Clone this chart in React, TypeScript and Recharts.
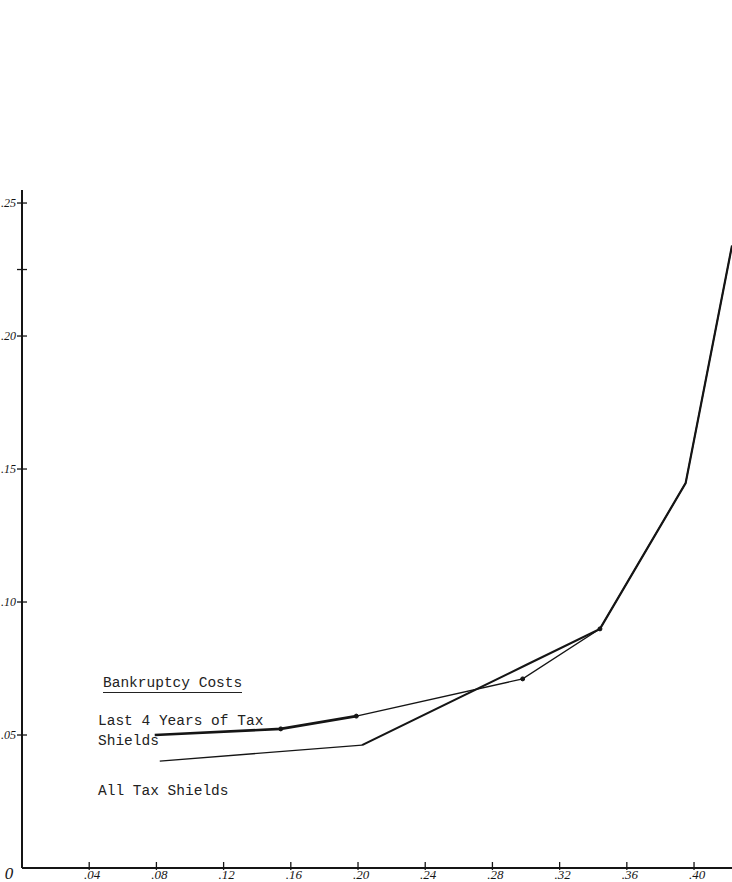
import React from 'react';
import { LineChart, Line, XAxis, YAxis } from 'recharts';

const xTicks = [0, 0.04, 0.08, 0.12, 0.16, 0.2, 0.24, 0.28, 0.32, 0.36, 0.4];
const xTickLabels = ['0', '.04', '.08', '.12', '.16', '.20', '.24', '.28', '.32', '.36', '.40'];
const yTicks = [0.05, 0.1, 0.15, 0.2, 0.225, 0.25];
const yTickLabels = ['.05', '.10', '.15', '.20', '', '.25'];

// Bankruptcy costs: Last 4 Years of Tax Shields
const last4X = [0.079, 0.154, 0.199, 0.298, 0.344, 0.395, 0.4226];
const last4Y = [0.05, 0.0523, 0.0571, 0.0711, 0.0899, 0.1447, 0.234];
// Bankruptcy costs: All Tax Shields
const allX = [0.082, 0.2024, 0.3, 0.344, 0.395, 0.4226];
const allY = [0.0402, 0.0462, 0.0763, 0.0899, 0.1447, 0.234];

const toRows = (xs: number[], ys: number[]) => xs.map((x, i) => ({ x, y: ys[i] }));
const last4 = toRows(last4X, last4Y);
const allTax = toRows(allX, allY);

const ink = '#151515';
const hand = '"Liberation Serif", serif';
const mono = '"Liberation Mono", "DejaVu Sans Mono", monospace';

const XTick = (props: any) => {
  const { x, payload } = props;
  const idx = xTicks.indexOf(payload.value);
  const label = idx >= 0 ? xTickLabels[idx] : '';
  if (payload.value === 0) {
    return (
      <text x={9} y={879} textAnchor="middle" fontFamily={hand} fontStyle="italic" fontSize={17} fill={ink}>
        {label}
      </text>
    );
  }
  return (
    <g>
      <line x1={x} x2={x} y1={862} y2={870} stroke={ink} strokeWidth={1.3} />
      <text x={x + 3} y={879} textAnchor="middle" fontFamily={hand} fontStyle="italic" fontSize={13} fill={ink}>
        {label}
      </text>
    </g>
  );
};

const YTick = (props: any) => {
  const { y, payload } = props;
  const idx = yTicks.indexOf(payload.value);
  const label = idx >= 0 ? yTickLabels[idx] : '';
  return (
    <g>
      <line x1={17} x2={27} y1={y} y2={y} stroke={ink} strokeWidth={1.3} />
      <text x={16} y={y + 4} textAnchor="end" fontFamily={hand} fontStyle="italic" fontSize={12} fill={ink}>
        {label}
      </text>
    </g>
  );
};

const dot = { r: 2, fill: ink, stroke: ink };

export default function App() {
  return (
    <div style={{ position: 'absolute', left: 0, top: 0, width: 732, height: 882, background: '#fff' }}>
      <LineChart width={732} height={882} margin={{ top: 190, right: 0, bottom: 0, left: 0 }}>
        <XAxis
          type="number"
          dataKey="x"
          domain={[0, 0.4226]}
          ticks={xTicks}
          interval={0}
          height={14}
          axisLine={{ stroke: ink, strokeWidth: 2 }}
          tickLine={false}
          tick={<XTick />}
          allowDataOverflow
        />
        <YAxis
          type="number"
          dataKey="y"
          domain={[0, 0.2549]}
          ticks={yTicks}
          interval={0}
          width={22}
          axisLine={{ stroke: ink, strokeWidth: 2 }}
          tickLine={false}
          tick={<YTick />}
          allowDataOverflow
        />
        <Line data={last4.slice(0, 3)} dataKey="y" type="linear" stroke={ink} strokeWidth={2.6} dot={false} isAnimationActive={false} />
        <Line data={last4.slice(2)} dataKey="y" type="linear" stroke={ink} strokeWidth={1.3} dot={false} isAnimationActive={false} />
        <Line data={allTax.slice(0, 2)} dataKey="y" type="linear" stroke={ink} strokeWidth={1.3} dot={false} isAnimationActive={false} />
        <Line data={allTax.slice(1)} dataKey="y" type="linear" stroke={ink} strokeWidth={2.2} dot={false} isAnimationActive={false} />
        <Line data={last4.slice(1, 5)} dataKey="y" type="linear" stroke="none" dot={dot} isAnimationActive={false} />
      </LineChart>
      <div style={{ position: 'absolute', left: 103, top: 674, fontFamily: mono, fontSize: 14.5, color: '#222', whiteSpace: 'pre', lineHeight: '18px', borderBottom: '1.5px solid #222', paddingBottom: 0 }}>
        Bankruptcy Costs
      </div>
      <div style={{ position: 'absolute', left: 98, top: 711, fontFamily: mono, fontSize: 14.5, color: '#222', whiteSpace: 'pre', lineHeight: '20px' }}>
        {'Last 4 Years of Tax\nShields'}
      </div>
      <div style={{ position: 'absolute', left: 98, top: 781, fontFamily: mono, fontSize: 14.5, color: '#222', whiteSpace: 'pre', lineHeight: '20px' }}>
        All Tax Shields
      </div>
    </div>
  );
}
